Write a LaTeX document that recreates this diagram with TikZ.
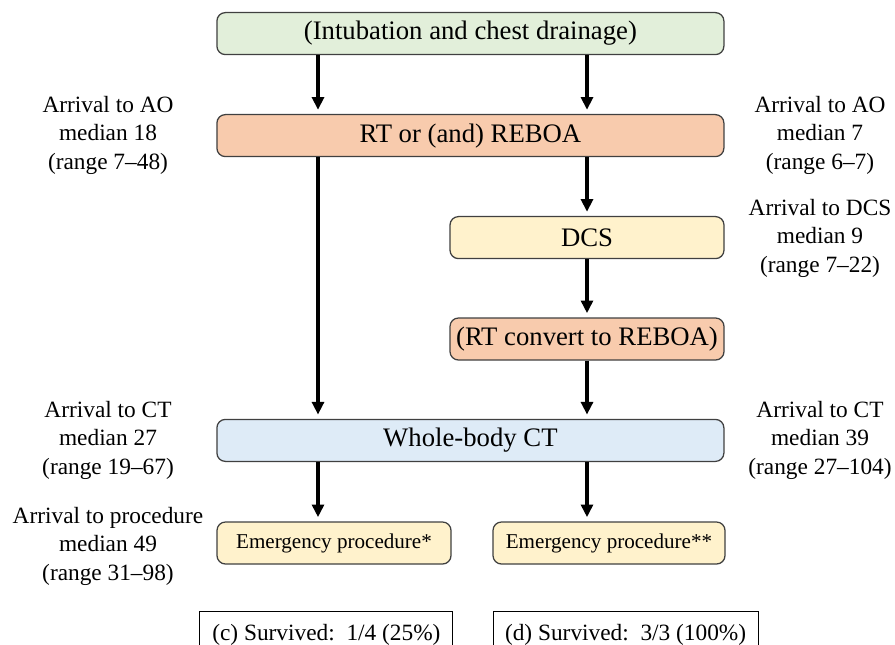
\documentclass[tikz,border=0pt]{standalone}
\usepackage{fontspec}
\setmainfont{Liberation Serif}
\usetikzlibrary{positioning, arrows.meta}

\definecolor{boxline}{RGB}{64,64,64}
\definecolor{greenfill}{RGB}{226,239,218}
\definecolor{orangefill}{RGB}{248,203,173}
\definecolor{yellowfill}{RGB}{255,242,204}
\definecolor{bluefill}{RGB}{222,235,247}

\begin{document}
\begin{tikzpicture}[
        box/.style={draw=boxline, line width=0.9pt, rectangle, rounded corners=6pt, align=center, minimum height=1.05cm, inner sep=0pt, font=\fontsize{19}{22}\selectfont},
        widebox/.style={box, minimum width=12.675cm},
        halfbox/.style={box, minimum width=6.85cm},
        procbox/.style={box, fill=yellowfill, font=\fontsize{15}{18}\selectfont},
        sidenote/.style={align=center, font=\fontsize{16.6}{20.3}\selectfont},
        result/.style={draw, line width=0.7pt, rectangle, minimum height=1.2cm, inner sep=0pt, font=\fontsize{16.6}{19}\selectfont},
        arrow/.style={-{Triangle[length=9pt,width=8.5pt]}, line width=2.2pt, shorten >=3pt}
    ]
        \useasboundingbox (0,0) rectangle (22.375,-16.1);

        % Nodes
        \node[widebox, fill=greenfill] (prep) at (11.76, -0.84) {(Intubation and chest drainage)};
        \node[widebox, fill=orangefill] (reboa) at (11.76, -3.39) {RT or (and) REBOA};
        \node[halfbox, fill=yellowfill] (dcs) at (14.675, -5.94) {DCS};
        \node[halfbox, fill=orangefill] (convert) at (14.675, -8.475) {(RT convert to REBOA)};
        \node[widebox, fill=bluefill] (ct) at (11.76, -11.01) {Whole-body CT};
        \node[procbox, minimum width=5.85cm] (procL) at (8.35, -13.575) {Emergency procedure*};
        \node[procbox, minimum width=5.8cm] (procR) at (15.225, -13.575) {Emergency procedure**};

        % Outcome boxes (cut by the lower edge)
        \node[result, minimum width=6.325cm] (survL) at (8.16, -15.875) {(c) Survived:\enspace 1/4 (25\%)};
        \node[result, minimum width=6.625cm] (survR) at (15.64, -15.875) {(d) Survived:\enspace 3/3 (100\%)};

        % Time notes
        \node[sidenote] (aoL) at (2.7, -3.375) {Arrival to AO\\median 18\\(range 7--48)};
        \node[sidenote] (aoR) at (20.5, -3.375) {Arrival to AO\\median 7\\(range 6--7)};
        \node[sidenote] (dcsR) at (20.5, -5.95) {Arrival to DCS\\median 9\\(range 7--22)};
        \node[sidenote] (ctL) at (2.7, -11.0) {Arrival to CT\\median 27\\(range 19--67)};
        \node[sidenote] (ctR) at (20.5, -11.0) {Arrival to CT\\median 39\\(range 27--104)};
        \node[sidenote] (procNote) at (2.7, -13.65) {Arrival to procedure\\median 49\\(range 31--98)};

        % Columns for the arrows
        \coordinate (colL) at (7.95, 0);
        \coordinate (colR) at (14.675, 0);

        % Left path
        \draw[arrow] (prep.south -| colL) -- (reboa.north -| colL);
        \draw[arrow] (reboa.south -| colL) -- (ct.north -| colL);
        \draw[arrow] (ct.south -| colL) -- (procL.north -| colL);

        % Right path
        \draw[arrow] (prep.south -| colR) -- (reboa.north -| colR);
        \draw[arrow] (reboa.south -| colR) -- (dcs.north -| colR);
        \draw[arrow] (dcs.south -| colR) -- (convert.north -| colR);
        \draw[arrow] (convert.south -| colR) -- (ct.north -| colR);
        \draw[arrow] (ct.south -| colR) -- (procR.north -| colR);

    \end{tikzpicture}
\end{document}
